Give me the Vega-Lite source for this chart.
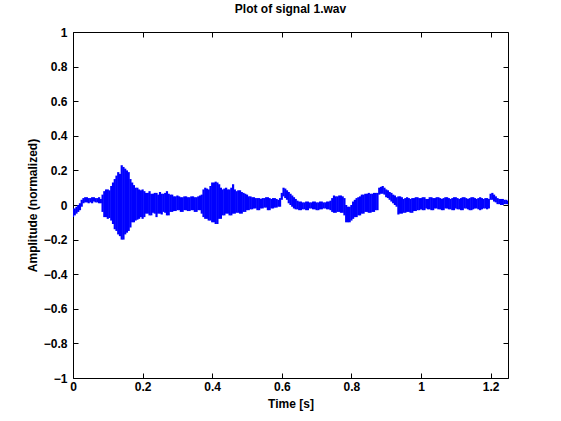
{
  "$schema": "https://vega.github.io/schema/vega-lite/v6.json",
  "width": 435,
  "height": 346,
  "autosize": {"type": "none"},
  "padding": {"left": 73, "top": 32, "right": 53, "bottom": 43},
  "background": "white",
  "title": {"text": "Plot of signal 1.wav", "font": "Liberation Sans", "fontSize": 12, "fontWeight": "bold", "color": "black", "offset": 10},
  "config": {
    "view": {"stroke": null},
    "axis": {"grid": false, "domainColor": "black", "tickColor": "black", "labelColor": "black", "titleColor": "black", "labelFont": "Liberation Sans", "labelFontWeight": "bold", "labelFontSize": 12, "titleFont": "Liberation Sans", "titleFontWeight": "bold", "titleFontSize": 12, "tickSize": -5, "labelFlush": false}
  },
  "data": {"values": [
    {"t":0.000,"hi":-0.02,"lo":-0.07},{"t":0.005,"hi":-0.02,"lo":-0.06},{"t":0.010,"hi":-0.01,"lo":-0.05},{"t":0.015,"hi":0.0,"lo":-0.04},{"t":0.020,"hi":0.01,"lo":-0.03},
    {"t":0.025,"hi":0.03,"lo":-0.01},{"t":0.030,"hi":0.04,"lo":0.01},{"t":0.035,"hi":0.045,"lo":0.015},{"t":0.040,"hi":0.045,"lo":0.015},{"t":0.045,"hi":0.04,"lo":0.01},
    {"t":0.050,"hi":0.04,"lo":0.015},{"t":0.055,"hi":0.045,"lo":0.01},{"t":0.060,"hi":0.045,"lo":0.02},{"t":0.065,"hi":0.04,"lo":0.015},{"t":0.070,"hi":0.04,"lo":0.015},
    {"t":0.075,"hi":0.045,"lo":0.01},{"t":0.080,"hi":0.035,"lo":0.01},{"t":0.085,"hi":0.06,"lo":-0.04},{"t":0.090,"hi":0.08,"lo":-0.07},{"t":0.095,"hi":0.09,"lo":-0.07},
    {"t":0.100,"hi":0.09,"lo":-0.08},{"t":0.105,"hi":0.085,"lo":-0.075},{"t":0.110,"hi":0.11,"lo":-0.09},{"t":0.115,"hi":0.13,"lo":-0.11},{"t":0.120,"hi":0.15,"lo":-0.14},
    {"t":0.125,"hi":0.17,"lo":-0.15},{"t":0.130,"hi":0.19,"lo":-0.17},{"t":0.135,"hi":0.18,"lo":-0.18},{"t":0.140,"hi":0.23,"lo":-0.2},{"t":0.145,"hi":0.22,"lo":-0.2},
    {"t":0.150,"hi":0.21,"lo":-0.17},{"t":0.155,"hi":0.2,"lo":-0.16},{"t":0.160,"hi":0.19,"lo":-0.15},{"t":0.165,"hi":0.15,"lo":-0.13},{"t":0.170,"hi":0.13,"lo":-0.1},
    {"t":0.175,"hi":0.115,"lo":-0.1},{"t":0.180,"hi":0.1,"lo":-0.09},{"t":0.185,"hi":0.1,"lo":-0.085},{"t":0.190,"hi":0.09,"lo":-0.08},{"t":0.195,"hi":0.085,"lo":-0.07},
    {"t":0.200,"hi":0.09,"lo":-0.08},{"t":0.205,"hi":0.08,"lo":-0.07},{"t":0.210,"hi":0.07,"lo":-0.05},{"t":0.215,"hi":0.07,"lo":-0.05},{"t":0.220,"hi":0.08,"lo":-0.06},
    {"t":0.225,"hi":0.065,"lo":-0.06},{"t":0.230,"hi":0.065,"lo":-0.045},{"t":0.235,"hi":0.07,"lo":-0.05},{"t":0.240,"hi":0.07,"lo":-0.07},{"t":0.245,"hi":0.06,"lo":-0.05},
    {"t":0.250,"hi":0.075,"lo":-0.05},{"t":0.255,"hi":0.065,"lo":-0.055},{"t":0.260,"hi":0.065,"lo":-0.04},{"t":0.265,"hi":0.07,"lo":-0.045},{"t":0.270,"hi":0.08,"lo":-0.06},
    {"t":0.275,"hi":0.065,"lo":-0.06},{"t":0.280,"hi":0.06,"lo":-0.04},{"t":0.285,"hi":0.06,"lo":-0.04},{"t":0.290,"hi":0.05,"lo":-0.035},{"t":0.295,"hi":0.05,"lo":-0.035},
    {"t":0.300,"hi":0.055,"lo":-0.03},{"t":0.305,"hi":0.05,"lo":-0.03},{"t":0.310,"hi":0.045,"lo":-0.04},{"t":0.315,"hi":0.045,"lo":-0.04},{"t":0.320,"hi":0.05,"lo":-0.03},
    {"t":0.325,"hi":0.05,"lo":-0.03},{"t":0.330,"hi":0.045,"lo":-0.035},{"t":0.335,"hi":0.045,"lo":-0.035},{"t":0.340,"hi":0.05,"lo":-0.03},{"t":0.345,"hi":0.05,"lo":-0.03},
    {"t":0.350,"hi":0.045,"lo":-0.04},{"t":0.355,"hi":0.045,"lo":-0.04},{"t":0.360,"hi":0.05,"lo":-0.03},{"t":0.365,"hi":0.055,"lo":-0.03},{"t":0.370,"hi":0.06,"lo":-0.05},
    {"t":0.375,"hi":0.09,"lo":-0.07},{"t":0.380,"hi":0.1,"lo":-0.08},{"t":0.385,"hi":0.095,"lo":-0.08},{"t":0.390,"hi":0.09,"lo":-0.09},{"t":0.395,"hi":0.11,"lo":-0.09},
    {"t":0.400,"hi":0.13,"lo":-0.1},{"t":0.405,"hi":0.13,"lo":-0.1},{"t":0.410,"hi":0.135,"lo":-0.11},{"t":0.415,"hi":0.13,"lo":-0.11},{"t":0.420,"hi":0.12,"lo":-0.08},
    {"t":0.425,"hi":0.1,"lo":-0.08},{"t":0.430,"hi":0.09,"lo":-0.06},{"t":0.435,"hi":0.095,"lo":-0.06},{"t":0.440,"hi":0.1,"lo":-0.05},{"t":0.445,"hi":0.09,"lo":-0.05},
    {"t":0.450,"hi":0.09,"lo":-0.06},{"t":0.455,"hi":0.1,"lo":-0.06},{"t":0.460,"hi":0.12,"lo":-0.05},{"t":0.465,"hi":0.09,"lo":-0.05},{"t":0.470,"hi":0.08,"lo":-0.045},
    {"t":0.475,"hi":0.085,"lo":-0.045},{"t":0.480,"hi":0.085,"lo":-0.05},{"t":0.485,"hi":0.075,"lo":-0.05},{"t":0.490,"hi":0.07,"lo":-0.04},{"t":0.495,"hi":0.065,"lo":-0.04},
    {"t":0.500,"hi":0.06,"lo":-0.03},{"t":0.505,"hi":0.05,"lo":-0.03},{"t":0.510,"hi":0.05,"lo":-0.025},{"t":0.515,"hi":0.045,"lo":-0.025},{"t":0.520,"hi":0.045,"lo":-0.02},
    {"t":0.525,"hi":0.04,"lo":-0.02},{"t":0.530,"hi":0.04,"lo":-0.03},{"t":0.535,"hi":0.04,"lo":-0.03},{"t":0.540,"hi":0.035,"lo":-0.02},{"t":0.545,"hi":0.04,"lo":-0.02},
    {"t":0.550,"hi":0.04,"lo":-0.015},{"t":0.555,"hi":0.045,"lo":-0.015},{"t":0.560,"hi":0.045,"lo":-0.03},{"t":0.565,"hi":0.04,"lo":-0.03},{"t":0.570,"hi":0.035,"lo":-0.02},
    {"t":0.575,"hi":0.04,"lo":-0.02},{"t":0.580,"hi":0.04,"lo":-0.015},{"t":0.585,"hi":0.035,"lo":-0.015},{"t":0.590,"hi":0.03,"lo":-0.01},{"t":0.595,"hi":0.04,"lo":-0.01},
    {"t":0.600,"hi":0.07,"lo":0.03},{"t":0.605,"hi":0.1,"lo":0.05},{"t":0.610,"hi":0.095,"lo":0.04},{"t":0.615,"hi":0.085,"lo":0.03},{"t":0.620,"hi":0.075,"lo":0.01},
    {"t":0.625,"hi":0.065,"lo":0.0},{"t":0.630,"hi":0.055,"lo":-0.01},{"t":0.635,"hi":0.045,"lo":-0.02},{"t":0.640,"hi":0.035,"lo":-0.025},{"t":0.645,"hi":0.025,"lo":-0.025},
    {"t":0.650,"hi":0.02,"lo":-0.03},{"t":0.655,"hi":0.02,"lo":-0.03},{"t":0.660,"hi":0.015,"lo":-0.025},{"t":0.665,"hi":0.015,"lo":-0.025},{"t":0.670,"hi":0.02,"lo":-0.03},
    {"t":0.675,"hi":0.02,"lo":-0.03},{"t":0.680,"hi":0.015,"lo":-0.02},{"t":0.685,"hi":0.015,"lo":-0.02},{"t":0.690,"hi":0.02,"lo":-0.025},{"t":0.695,"hi":0.02,"lo":-0.025},
    {"t":0.700,"hi":0.015,"lo":-0.03},{"t":0.705,"hi":0.015,"lo":-0.03},{"t":0.710,"hi":0.02,"lo":-0.025},{"t":0.715,"hi":0.02,"lo":-0.025},{"t":0.720,"hi":0.015,"lo":-0.02},
    {"t":0.725,"hi":0.015,"lo":-0.02},{"t":0.730,"hi":0.02,"lo":-0.025},{"t":0.735,"hi":0.02,"lo":-0.025},{"t":0.740,"hi":0.025,"lo":-0.03},{"t":0.745,"hi":0.04,"lo":-0.04},
    {"t":0.750,"hi":0.055,"lo":-0.045},{"t":0.755,"hi":0.05,"lo":-0.045},{"t":0.760,"hi":0.05,"lo":-0.04},{"t":0.765,"hi":0.055,"lo":-0.04},{"t":0.770,"hi":0.055,"lo":-0.045},
    {"t":0.775,"hi":0.05,"lo":-0.045},{"t":0.780,"hi":0.04,"lo":-0.06},{"t":0.785,"hi":0.0,"lo":-0.1},{"t":0.790,"hi":-0.01,"lo":-0.1},{"t":0.795,"hi":-0.01,"lo":-0.1},
    {"t":0.800,"hi":0.0,"lo":-0.09},{"t":0.805,"hi":0.02,"lo":-0.08},{"t":0.810,"hi":0.03,"lo":-0.07},{"t":0.815,"hi":0.04,"lo":-0.07},{"t":0.820,"hi":0.045,"lo":-0.06},
    {"t":0.825,"hi":0.05,"lo":-0.06},{"t":0.830,"hi":0.06,"lo":-0.05},{"t":0.835,"hi":0.06,"lo":-0.05},{"t":0.840,"hi":0.065,"lo":-0.04},{"t":0.845,"hi":0.065,"lo":-0.04},
    {"t":0.850,"hi":0.07,"lo":-0.045},{"t":0.855,"hi":0.065,"lo":-0.045},{"t":0.860,"hi":0.065,"lo":-0.04},{"t":0.865,"hi":0.07,"lo":-0.04},{"t":0.870,"hi":0.07,"lo":-0.03},
    {"t":0.875,"hi":0.07,"lo":-0.03},{"t":0.880,"hi":0.1,"lo":0.06},{"t":0.885,"hi":0.105,"lo":0.065},{"t":0.890,"hi":0.11,"lo":0.065},{"t":0.895,"hi":0.1,"lo":0.06},
    {"t":0.900,"hi":0.09,"lo":0.045},{"t":0.905,"hi":0.085,"lo":0.04},{"t":0.910,"hi":0.075,"lo":0.03},{"t":0.915,"hi":0.07,"lo":0.02},{"t":0.920,"hi":0.06,"lo":0.01},
    {"t":0.925,"hi":0.055,"lo":0.0},{"t":0.930,"hi":0.045,"lo":-0.01},{"t":0.935,"hi":0.05,"lo":-0.055},{"t":0.940,"hi":0.05,"lo":-0.05},{"t":0.945,"hi":0.045,"lo":-0.05},
    {"t":0.950,"hi":0.035,"lo":-0.045},{"t":0.955,"hi":0.04,"lo":-0.045},{"t":0.960,"hi":0.045,"lo":-0.04},{"t":0.965,"hi":0.04,"lo":-0.04},{"t":0.970,"hi":0.035,"lo":-0.045},
    {"t":0.975,"hi":0.04,"lo":-0.045},{"t":0.980,"hi":0.04,"lo":-0.035},{"t":0.985,"hi":0.045,"lo":-0.035},{"t":0.990,"hi":0.045,"lo":-0.03},{"t":0.995,"hi":0.04,"lo":-0.03},
    {"t":1.000,"hi":0.04,"lo":-0.025},{"t":1.005,"hi":0.045,"lo":-0.03},{"t":1.010,"hi":0.045,"lo":-0.03},{"t":1.015,"hi":0.035,"lo":-0.02},{"t":1.020,"hi":0.035,"lo":-0.025},
    {"t":1.025,"hi":0.045,"lo":-0.025},{"t":1.030,"hi":0.045,"lo":-0.03},{"t":1.035,"hi":0.04,"lo":-0.03},{"t":1.040,"hi":0.04,"lo":-0.02},{"t":1.045,"hi":0.045,"lo":-0.02},
    {"t":1.050,"hi":0.045,"lo":-0.025},{"t":1.055,"hi":0.04,"lo":-0.025},{"t":1.060,"hi":0.035,"lo":-0.03},{"t":1.065,"hi":0.04,"lo":-0.03},{"t":1.070,"hi":0.045,"lo":-0.02},
    {"t":1.075,"hi":0.045,"lo":-0.02},{"t":1.080,"hi":0.04,"lo":-0.025},{"t":1.085,"hi":0.035,"lo":-0.025},{"t":1.090,"hi":0.04,"lo":-0.03},{"t":1.095,"hi":0.045,"lo":-0.03},
    {"t":1.100,"hi":0.045,"lo":-0.02},{"t":1.105,"hi":0.04,"lo":-0.025},{"t":1.110,"hi":0.035,"lo":-0.025},{"t":1.115,"hi":0.04,"lo":-0.03},{"t":1.120,"hi":0.045,"lo":-0.03},
    {"t":1.125,"hi":0.045,"lo":-0.02},{"t":1.130,"hi":0.04,"lo":-0.02},{"t":1.135,"hi":0.035,"lo":-0.025},{"t":1.140,"hi":0.04,"lo":-0.03},{"t":1.145,"hi":0.045,"lo":-0.03},
    {"t":1.150,"hi":0.045,"lo":-0.025},{"t":1.155,"hi":0.04,"lo":-0.02},{"t":1.160,"hi":0.035,"lo":-0.02},{"t":1.165,"hi":0.04,"lo":-0.025},{"t":1.170,"hi":0.045,"lo":-0.03},
    {"t":1.175,"hi":0.04,"lo":-0.025},{"t":1.180,"hi":0.035,"lo":-0.02},{"t":1.185,"hi":0.04,"lo":-0.02},{"t":1.190,"hi":0.04,"lo":-0.025},{"t":1.195,"hi":0.035,"lo":-0.02},
    {"t":1.200,"hi":0.065,"lo":0.03},{"t":1.205,"hi":0.07,"lo":0.03},{"t":1.210,"hi":0.06,"lo":0.02},{"t":1.215,"hi":0.05,"lo":0.015},{"t":1.220,"hi":0.04,"lo":0.005},
    {"t":1.225,"hi":0.035,"lo":0.005},{"t":1.230,"hi":0.035,"lo":0.0},{"t":1.235,"hi":0.035,"lo":0.0},{"t":1.240,"hi":0.03,"lo":0.005},{"t":1.245,"hi":0.03,"lo":0.005},
    {"t":1.250,"hi":0.025,"lo":0.005}
  ]},
  "layer": [
    {
      "mark": {"type": "rule", "color": "#0000ff", "strokeWidth": 2.2, "clip": true},
      "encoding": {
        "x": {"field": "t", "type": "quantitative", "scale": {"domain": [0, 1.25], "nice": false, "zero": false},
              "axis": {"orient": "bottom", "title": "Time [s]", "values": [0, 0.2, 0.4, 0.6, 0.8, 1, 1.2], "format": "~g", "labelPadding": 8, "titlePadding": 6}},
        "y": {"field": "hi", "type": "quantitative", "scale": {"domain": [-1, 1], "nice": false},
              "axis": {"orient": "left", "title": "Amplitude (normalized)", "values": [-1, -0.8, -0.6, -0.4, -0.2, 0, 0.2, 0.4, 0.6, 0.8, 1], "format": "~g", "labelPadding": 11, "titlePadding": 4}},
        "y2": {"field": "lo"}
      }
    },
    {
      "mark": {"type": "point", "opacity": 0},
      "encoding": {
        "x": {"field": "t", "type": "quantitative", "axis": {"orient": "top", "title": null, "labels": false, "values": [0, 0.2, 0.4, 0.6, 0.8, 1, 1.2]}},
        "y": {"field": "hi", "type": "quantitative", "axis": {"orient": "right", "title": null, "labels": false, "values": [-1, -0.8, -0.6, -0.4, -0.2, 0, 0.2, 0.4, 0.6, 0.8, 1]}}
      }
    }
  ],
  "resolve": {"axis": {"x": "independent", "y": "independent"}}
}
